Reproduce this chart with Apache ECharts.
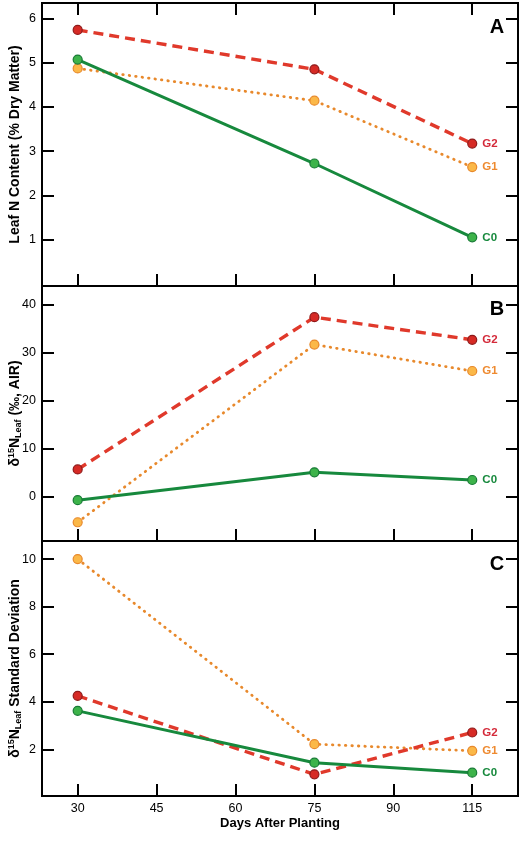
<!DOCTYPE html>
<html>
<head>
<meta charset="utf-8">
<script src="https://cdn.jsdelivr.net/npm/echarts@6/dist/echarts.min.js"></script>
<style>
html,body{margin:0;padding:0;background:#fff;}
#chart{width:523px;height:843px;}
</style>
</head>
<body>
<div id="chart"></div>
<script>
// ---- data ----
const xTickLabels = ['30', '45', '60', '75', '90', '115'];
const days = [30, 75, 115];
const seriesNames = ['C0', 'G1', 'G2'];

// Panel A: Leaf N content (% dry matter)
const leafN_C0 = [5.07, 2.72, 1.05];
const leafN_G1 = [4.87, 4.14, 2.64];
const leafN_G2 = [5.74, 4.85, 3.17];

// Panel B: delta15N leaf (permil, AIR)
const d15N_C0 = [-0.7, 5.1, 3.5];
const d15N_G1 = [-5.3, 31.7, 26.2];
const d15N_G2 = [5.7, 37.4, 32.7];

// Panel C: delta15N leaf standard deviation
const sd_C0 = [3.62, 1.44, 1.02];
const sd_G1 = [10.0, 2.22, 1.94];
const sd_G2 = [4.25, 0.95, 2.71];

const yTicksA = [1, 2, 3, 4, 5, 6];
const yTicksB = [0, 10, 20, 30, 40];
const yTicksC = [2, 4, 6, 8, 10];

// ---- styling ----
const FONT = '"Liberation Sans", Arial, Helvetica, sans-serif';
const styles = {
  C0: {line: {color: '#17893d', width: 3, type: 'solid'}, fill: '#3db34a', border: '#177a35', label: '#17893d'},
  G1: {line: {color: '#e8892c', width: 2.8, type: [0.5, 6], cap: 'round'}, fill: '#fbb848', border: '#e8892c', label: '#ee8a30'},
  G2: {line: {color: '#e0392b', width: 3.4, type: [10, 6], cap: 'butt'}, fill: '#d62a25', border: '#8e1a1a', label: '#d42a3a'}
};

const xIndex = days.map(d => xTickLabels.indexOf(String(d)));
const xTickPos = xTickLabels.map((_, i) => i);
const X_MIN = -0.452, X_MAX = 5.58;

const grids = [
  {left: 42, top: 3, width: 476, height: 283},
  {left: 42, top: 286, width: 476, height: 255},
  {left: 42, top: 541, width: 476, height: 255}
].map(g => Object.assign({show: true, borderColor: '#000', borderWidth: 2, backgroundColor: 'transparent', outerBoundsMode: 'none', containLabel: false}, g));

const tickStyle = {show: true, inside: true, length: 12, lineStyle: {color: '#000', width: 2}};

function xAxisFor(gi, showLabels, position) {
  return {
    type: 'value', gridIndex: gi, min: X_MIN, max: X_MAX, position: position || 'bottom',
    axisLine: {show: false, onZero: false}, splitLine: {show: false},
    axisTick: Object.assign({customValues: xTickPos}, tickStyle),
    axisLabel: {show: showLabels, customValues: xTickPos, formatter: v => xTickLabels[Math.round(v)], color: '#000', fontFamily: FONT, fontSize: 12.5, margin: 6},
    name: showLabels ? 'Days After Planting' : '',
    nameLocation: 'middle', nameGap: 21, nameMoveOverlap: false,
    nameTextStyle: {color: '#000', fontFamily: FONT, fontWeight: 'bold', fontSize: 13}
  };
}

function yAxisFor(gi, min, max, ticks, name, rich, right, gap) {
  return {
    type: 'value', gridIndex: gi, min: min, max: max, position: right ? 'right' : 'left',
    axisLine: {show: false, onZero: false}, splitLine: {show: false},
    axisTick: Object.assign({customValues: ticks}, tickStyle),
    axisLabel: {show: !right, customValues: ticks, color: '#000', fontFamily: FONT, fontSize: 12.5, margin: 6},
    name: right ? '' : name,
    nameLocation: 'middle', nameGap: gap || 20, nameRotate: 90, nameMoveOverlap: false,
    nameTextStyle: Object.assign({color: '#000', fontFamily: FONT, fontWeight: 'bold', fontSize: 14}, rich ? {rich: rich} : {})
  };
}

const dRich = {
  d: {fontFamily: FONT, fontWeight: 'bold', fontSize: 14, lineHeight: 16, color: '#000', verticalAlign: 'middle'},
  sup: {fontFamily: FONT, fontWeight: 'bold', fontSize: 9, lineHeight: 16, color: '#000', verticalAlign: 'top'},
  n: {fontFamily: FONT, fontWeight: 'bold', fontSize: 14, lineHeight: 16, color: '#000', verticalAlign: 'middle'},
  sub: {fontFamily: FONT, fontWeight: 'bold', fontSize: 9, lineHeight: 16, color: '#000', verticalAlign: 'bottom'},
  t: {fontFamily: FONT, fontWeight: 'bold', fontSize: 14, lineHeight: 16, color: '#000', verticalAlign: 'middle'}
};

const xAxes = [xAxisFor(0, false), xAxisFor(1, false), xAxisFor(2, true), xAxisFor(0, false, 'top')];
const yAxes = [
  yAxisFor(0, -0.05, 6.35, yTicksA, 'Leaf N Content (% Dry Matter)', null, false, 20),
  yAxisFor(1, -9.2, 43.9, yTicksB, '{d|δ}{sup|15}{n|N}{sub|Leaf}{t| (‰, AIR)}', dRich, false, 19),
  yAxisFor(2, 0.04, 10.76, yTicksC, '{d|δ}{sup|15}{n|N}{sub|Leaf}{t| Standard Deviation}', dRich, false, 19),
  yAxisFor(0, -0.05, 6.35, yTicksA, '', null, true),
  yAxisFor(1, -9.2, 43.9, yTicksB, '', null, true),
  yAxisFor(2, 0.04, 10.76, yTicksC, '', null, true)
];

function makeSeries(name, values, gi) {
  const s = styles[name];
  const data = values.map((v, i) => {
    const item = {value: [xIndex[i], v]};
    if (i === values.length - 1) {
      item.label = {show: true, position: 'right', distance: 5, formatter: name,
        color: s.label, fontFamily: FONT, fontWeight: 'bold', fontSize: 11.5};
    }
    return item;
  });
  return {
    type: 'line', name: name, xAxisIndex: gi, yAxisIndex: gi, data: data,
    symbol: 'circle', symbolSize: 9, showSymbol: true, animation: false, silent: true,
    lineStyle: {color: s.line.color, width: s.line.width, type: s.line.type, cap: s.line.cap || 'butt'},
    itemStyle: {color: s.fill, borderColor: s.border, borderWidth: 1.2},
    label: {show: false},
    emphasis: {disabled: true},
    clip: false
  };
}

const panels = [
  {C0: leafN_C0, G1: leafN_G1, G2: leafN_G2},
  {C0: d15N_C0, G1: d15N_G1, G2: d15N_G2},
  {C0: sd_C0, G1: sd_G1, G2: sd_G2}
];
const series = [];
panels.forEach((p, gi) => {
  ['G1', 'G2', 'C0'].forEach(n => series.push(makeSeries(n, p[n], gi)));
});

const panelLetters = ['A', 'B', 'C'];
const graphic = panelLetters.map((L, i) => ({
  type: 'text', x: 497, y: [27, 309, 564][i],
  style: {text: L, font: 'bold 20px ' + FONT, fill: '#000', align: 'center', verticalAlign: 'middle'}
}));

const chart = echarts.init(document.getElementById('chart'), null, {renderer: 'canvas'});
chart.setOption({
  backgroundColor: '#fff',
  animation: false,
  grid: grids,
  xAxis: xAxes,
  yAxis: yAxes,
  series: series,
  graphic: graphic
});
</script>
</body>
</html>
